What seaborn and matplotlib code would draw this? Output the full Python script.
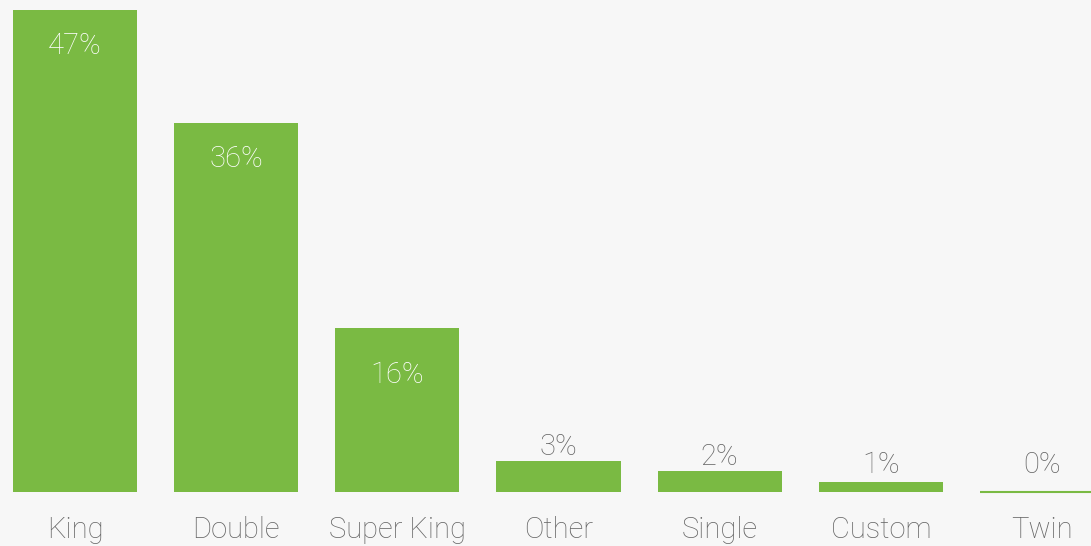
import matplotlib
matplotlib.use("Agg")
import matplotlib.pyplot as plt
import seaborn as sns
import pandas as pd

categories = ["King", "Double", "Super King", "Other", "Single", "Custom", "Twin"]
shares = [47, 36, 16, 3, 2, 1, 0]
labels = ["47%", "36%", "16%", "3%", "2%", "1%", "0%"]

GREEN = "#7aba43"
BG = "#f7f7f7"
GREY = "#666666"

sns.set_theme(style="white")
plt.rcParams["font.family"] = ["Roboto", "DejaVu Sans"]

df = pd.DataFrame({"category": categories, "share": shares})

fig = plt.figure(figsize=(10.91, 5.46), dpi=100, facecolor=BG)
ax = fig.add_axes([0, 1 - 492 / 546, 1, 492 / 546])
ax.set_facecolor(BG)

sns.barplot(data=df, x="category", y="share", color=GREEN, saturation=1,
            width=0.77, ax=ax, linewidth=0)

# thin baseline stroke so an empty bar still shows
for patch, v in zip(ax.patches, shares):
    if v == 0:
        patch.set_edgecolor(GREEN)
        patch.set_linewidth(1.5)
        patch.set_clip_on(False)

ax.set_xlim(-0.465, 6.304)
ax.set_ylim(0, 47.95)
for s in ax.spines.values():
    s.set_visible(False)
ax.set_xlabel("")
ax.set_ylabel("")
ax.set_yticks([])
ax.tick_params(axis="x", length=0, labelbottom=False)

FS = 21
W = "light"
for i, (v, lab) in enumerate(zip(shares, labels)):
    if v >= 10:
        drop = 4.35 if v > 20 else 5.35
        ax.text(i, v - drop, lab, ha="center", va="baseline", color="white",
                fontsize=FS, fontweight=W)
    else:
        ax.text(i, max(v + 0.6, 1.85), lab, ha="center", va="baseline",
                color=GREY, fontsize=FS, fontweight=W)

for i, cat in enumerate(categories):
    ax.text(i, -0.0935, cat, ha="center", va="baseline", color=GREY,
            fontsize=FS, fontweight=W, transform=ax.get_xaxis_transform(),
            clip_on=False)

fig.savefig("out.png", dpi=100, facecolor=BG)
